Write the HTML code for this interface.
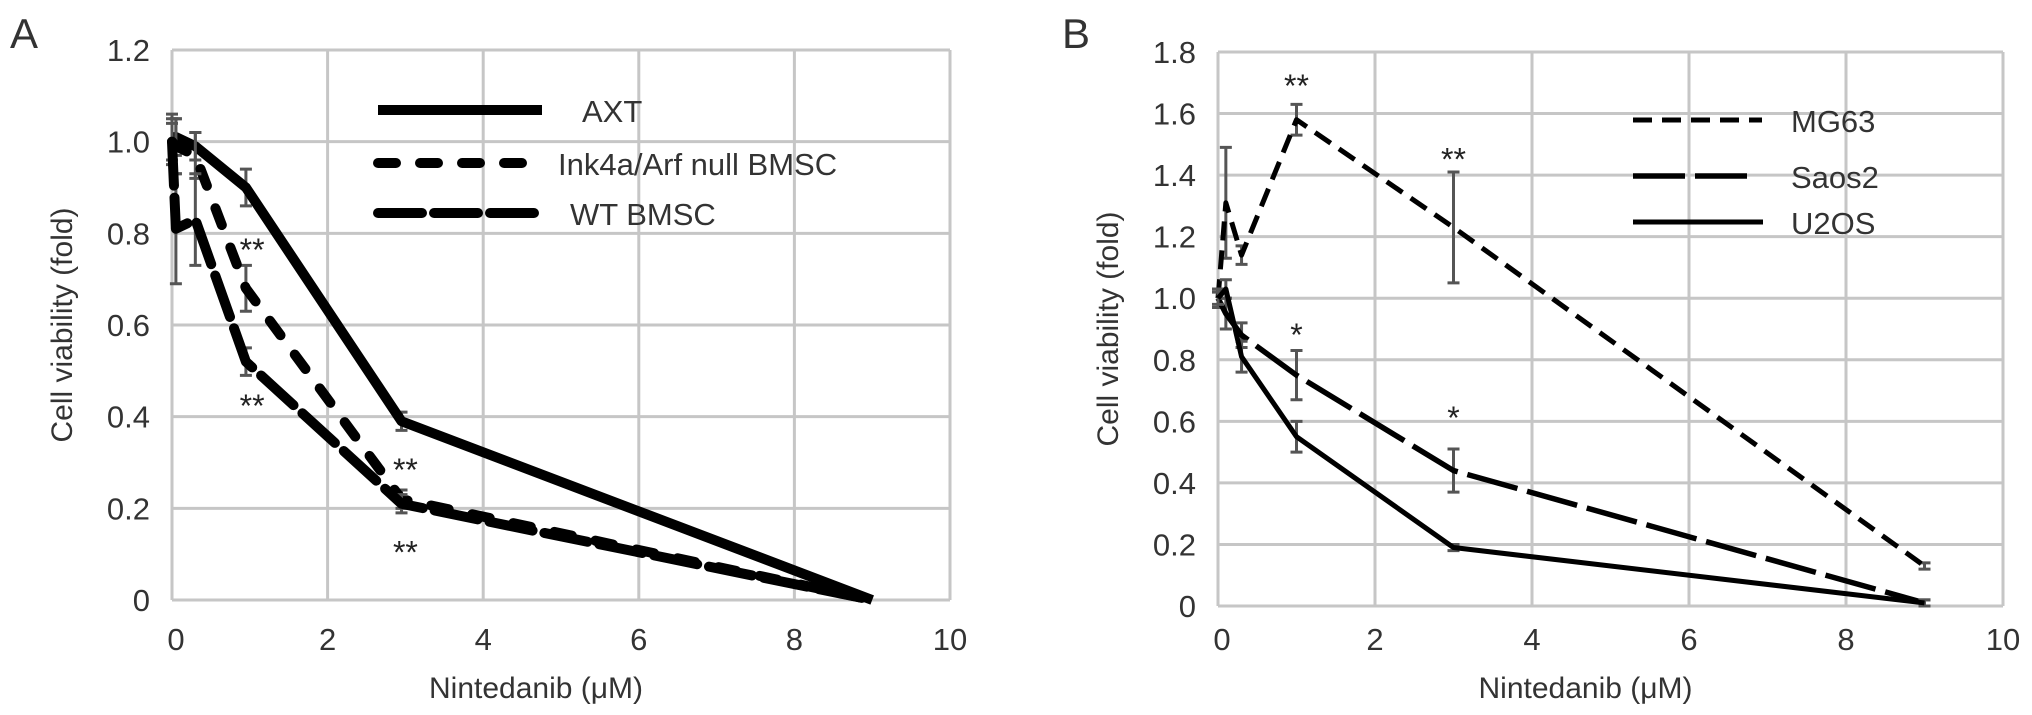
<!DOCTYPE html>
<html><head><meta charset="utf-8">
<style>
html,body{margin:0;padding:0;background:#fff;}
svg{display:block;}
text{font-family:"Liberation Sans",Arial,sans-serif;fill:#333;}
</style></head>
<body>
<svg id="chart" width="2032" height="715" viewBox="0 0 2032 715" xmlns="http://www.w3.org/2000/svg"></svg>
<script>
// ---- Panel A data ----
const xA = [0, 0.05, 0.3, 0.95, 2.95, 9];
const axtVals = [1.01, 1.01, 0.99, 0.90, 0.39, 0.0];
const axtErr = [0.05, 0.04, 0.03, 0.04, 0.02, 0];
const inkVals = [1.0, 0.99, 0.97, 0.68, 0.22, 0.0];
const inkErr = [0.05, 0.06, 0.05, 0.05, 0.02, 0];
const wtVals = [1.0, 0.81, 0.83, 0.52, 0.21, 0.0];
const wtErr = [0.04, 0.12, 0.10, 0.03, 0.02, 0];
const starsAx = [1.03, 1.03, 3.0, 3.0];
const starsAy = [0.77, 0.43, 0.29, 0.11];
const starsAt = ['**', '**', '**', '**'];
const yTicksA = [0, 0.2, 0.4, 0.6, 0.8, 1.0, 1.2];
const yTickLabelsA = ['0', '0.2', '0.4', '0.6', '0.8', '1.0', '1.2'];
// ---- Panel B data ----
const xB = [0, 0.1, 0.3, 1.0, 3.0, 9];
const mgVals = [1.0, 1.31, 1.14, 1.58, 1.23, 0.13];
const mgErr = [0.03, 0.18, 0.03, 0.05, 0.18, 0.01];
const saosVals = [1.0, 0.95, 0.88, 0.75, 0.44, 0.01];
const saosErr = [0.03, 0.05, 0.04, 0.08, 0.07, 0.01];
const u2Vals = [1.0, 1.03, 0.81, 0.55, 0.19, 0.01];
const u2Err = [0.02, 0.03, 0.05, 0.05, 0.01, 0.01];
const starsBx = [1.0, 3.0, 1.0, 3.0];
const starsBy = [1.70, 1.46, 0.89, 0.62];
const starsBt = ['**', '**', '*', '*'];
const yTicksB = [0, 0.2, 0.4, 0.6, 0.8, 1.0, 1.2, 1.4, 1.6, 1.8];
const yTickLabelsB = ['0', '0.2', '0.4', '0.6', '0.8', '1.0', '1.2', '1.4', '1.6', '1.8'];
const xTicks = [0, 2, 4, 6, 8, 10];
const xTickLabels = ['0', '2', '4', '6', '8', '10'];

const NS = 'http://www.w3.org/2000/svg';
const svg = document.getElementById('chart');
function mk(tag, attrs, parent) {
  const e = document.createElementNS(NS, tag);
  for (const k in attrs) e.setAttribute(k, attrs[k]);
  (parent || svg).appendChild(e);
  return e;
}

function panel(cfg) {
  const g = mk('g', {});
  
  
  const sx = v => cfg.x0 + (v / 10) * (cfg.x1 - cfg.x0);
  const sy = v => cfg.y0 - (v / cfg.ymax) * (cfg.y0 - cfg.y1);
  // grid
  cfg.yTicks.forEach((t, i) => {
    const l = mk('line', {x1: cfg.x0, x2: cfg.x1, y1: sy(t), y2: sy(t), stroke: '#c6c6c6', 'stroke-width': 3}, g);
    
    
    const tx = mk('text', {x: cfg.x0 - 22, y: sy(t) + 11, 'text-anchor': 'end', 'font-size': 31}, g);
    tx.textContent = cfg.yLabels[i];
    
    
  });
  xTicks.forEach((t, i) => {
    const l = mk('line', {x1: sx(t), x2: sx(t), y1: cfg.y1, y2: cfg.y0, stroke: '#c6c6c6', 'stroke-width': 3}, g);
    
    
    const tx = mk('text', {x: sx(t) + (i === 0 ? 4 : 0), y: 650, 'text-anchor': 'middle', 'font-size': 31}, g);
    tx.textContent = xTickLabels[i];
    
    
  });
  const xt = mk('text', {x: (cfg.x0 + cfg.x1) / 2 - 25, y: 698, 'text-anchor': 'middle', 'font-size': 30}, g);
  xt.textContent = 'Nintedanib (\u03bcM)';
  
  
  const cy = (cfg.y0 + cfg.y1) / 2;
  const yt = mk('text', {x: 0, y: 0, 'text-anchor': 'middle', 'font-size': 30, transform: `translate(${cfg.x0 - 100},${cy}) rotate(-90)`}, g);
  yt.textContent = 'Cell viability (fold)';
  
  
  const pl = mk('text', {x: cfg.labelX, y: 48, 'font-size': 42}, g);
  pl.textContent = cfg.label;
  
  
  // series
  cfg.series.forEach(s => {
    s.err.forEach((e, i) => {
      if (e <= 0) return;
      const X = sx(cfg.xs[i]);
      const eb = mk('path', {d: `M${X},${sy(s.vals[i] - e)}V${sy(s.vals[i] + e)}M${X - 6},${sy(s.vals[i] - e)}h12M${X - 6},${sy(s.vals[i] + e)}h12`, stroke: '#555', 'stroke-width': 3, fill: 'none'}, g);
      
      
    });
    const pts = s.vals.map((v, i) => sx(cfg.xs[i]) + ',' + sy(v)).join(' ');
    const attrs = {points: pts, fill: 'none', stroke: '#000', 'stroke-width': s.w, 'stroke-linejoin': 'round', 'stroke-linecap': s.cap || 'butt'};
    if (s.dash) attrs['stroke-dasharray'] = s.dash;
    const p = mk('polyline', attrs, g);
    
    
    // legend
    const la = {x1: cfg.legX, x2: cfg.legX + s.legLen, y1: s.legY, y2: s.legY, stroke: '#000', 'stroke-width': s.w, 'stroke-linecap': s.cap || 'butt'};
    if (s.dash) la['stroke-dasharray'] = s.dash;
    const ll = mk('line', la, g);
    
    
    const lt = mk('text', {x: s.legTextX, y: s.legY + 12, 'font-size': 31}, g);
    lt.textContent = s.label;
    
    
  });
  cfg.stars.x.forEach((v, i) => {
    const st = mk('text', {x: sx(v), y: sy(cfg.stars.y[i]) + 14, 'text-anchor': 'middle', 'font-size': 32, style: 'fill:#222'}, g);
    st.textContent = cfg.stars.t[i];
    
    
  });
}

panel({
  name: 'panel-a', label: 'A', labelX: 10,
  x0: 172, x1: 950, y0: 600, y1: 50, ymax: 1.2,
  yTicks: yTicksA, yLabels: yTickLabelsA, xs: xA, legX: 378,
  series: [
    {name: 'axt', label: 'AXT', vals: axtVals, err: axtErr, w: 10, legY: 110, legLen: 164, legTextX: 582},
    {name: 'ink4a-arf-null-bmsc', label: 'Ink4a/Arf null BMSC', vals: inkVals, err: inkErr, w: 10, dash: '18 24', cap: 'round', legY: 163, legLen: 154, legTextX: 558},
    {name: 'wt-bmsc', label: 'WT BMSC', vals: wtVals, err: wtErr, w: 10, dash: '44 12', cap: 'round', legY: 213, legLen: 156, legTextX: 570}
  ],
  stars: {x: starsAx, y: starsAy, t: starsAt}
});

panel({
  name: 'panel-b', label: 'B', labelX: 1062,
  x0: 1218, x1: 2003, y0: 606, y1: 52, ymax: 1.8,
  yTicks: yTicksB, yLabels: yTickLabelsB, xs: xB, legX: 1633,
  series: [
    {name: 'mg63', label: 'MG63', vals: mgVals, err: mgErr, w: 5, dash: '19 10', legY: 120, legLen: 129, legTextX: 1791},
    {name: 'saos2', label: 'Saos2', vals: saosVals, err: saosErr, w: 5.5, dash: '52 10', legY: 176, legLen: 119, legTextX: 1791},
    {name: 'u2os', label: 'U2OS', vals: u2Vals, err: u2Err, w: 5, legY: 222, legLen: 130, legTextX: 1791}
  ],
  stars: {x: starsBx, y: starsBy, t: starsBt}
});
</script>
</body></html>
